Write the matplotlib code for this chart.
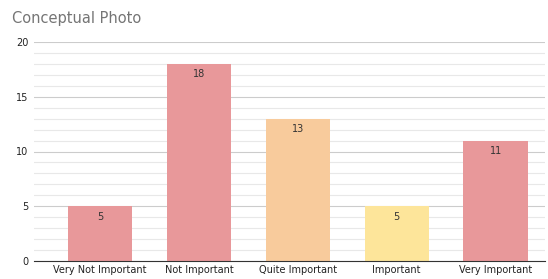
import matplotlib
matplotlib.use("Agg")
import matplotlib.pyplot as plt

categories = ["Very Not Important", "Not Important", "Quite Important", "Important", "Very Important"]
values = [5, 18, 13, 5, 11]
colors = ["#e8989a", "#e8989a", "#f8cb9c", "#fde59a", "#e8989a"]
yticks = [0, 5, 10, 15, 20]

fig = plt.figure(figsize=(5.48, 2.79), dpi=100)
ax = fig.add_axes([34/548, 1-261/279, (545-34)/548, (261-42)/279])

x = list(range(len(categories)))
bars = ax.bar(x, values, width=0.65, color=colors, zorder=3)
for xi, v in zip(x, values):
    ax.text(xi, v - 0.5, str(v), ha="center", va="top", fontsize=7, color="#333333", zorder=4)

ax.set_xlim(-0.67, 4.5)
ax.set_ylim(0, 20)
ax.set_yticks(yticks)
ax.set_yticks(range(0, 21), minor=True)
ax.set_xticks(x)
ax.set_xticklabels(categories, fontsize=7, color="#222222")
ax.tick_params(axis="y", labelsize=7, labelcolor="#222222", length=0, pad=4)
ax.tick_params(axis="y", which="minor", length=0)
ax.tick_params(axis="x", length=0, pad=3)
ax.grid(axis="y", which="minor", color="#e8e8e8", linewidth=0.8, zorder=0)
ax.grid(axis="y", which="major", color="#cccccc", linewidth=0.8, zorder=1)
for s in ["top", "right", "left"]:
    ax.spines[s].set_visible(False)
ax.spines["bottom"].set_color("#333333")
ax.spines["bottom"].set_linewidth(0.8)
ax.spines["bottom"].set_zorder(5)

fig.text(12/548, 1-18/279, "Conceptual Photo", fontsize=10.5, color="#757575", va="center", ha="left")

fig.savefig("out.png", dpi=100)
